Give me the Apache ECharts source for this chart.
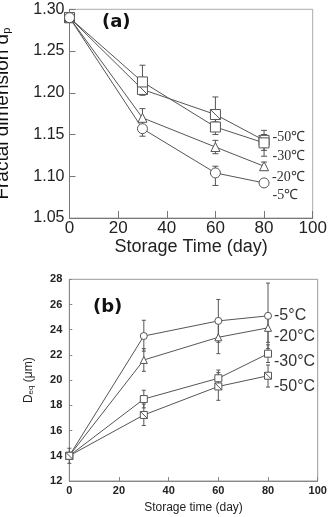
<!DOCTYPE html>
<html>
<head>
<meta charset="utf-8">
<script src="https://cdn.jsdelivr.net/npm/echarts@6/dist/echarts.min.js"></script>
<style>
  html, body { margin: 0; padding: 0; background: #fff; }
  #chart { width: 328px; height: 517px; }
</style>
</head>
<body>
<div id="chart"></div>
<script>
// 储存天数
const days = [0, 30, 60, 80]

// (a) 分形维数 d_p
const aNames = ['-50℃', '-30℃', '-20℃', '-5℃']
const aN50 = [1.29, 1.204, 1.174, 1.143]
const aN30 = [1.29, 1.213, 1.159, 1.140]
const aN20 = [1.29, 1.170, 1.135, 1.112]
const aN5 = [1.29, 1.157, 1.104, 1.092]
// 误差线 [下限, 上限]
const aN50Bar = [null, [1.197, 1.211], [1.165, 1.195], [1.131, 1.155]]
const aN30Bar = [null, [1.206, 1.233], [1.150, 1.168], [1.124, 1.150]]
const aN20Bar = [null, [1.160, 1.181], [1.127, 1.143], [1.107, 1.117]]
const aN5Bar = [null, [1.148, 1.166], [1.089, 1.112], null]
const aYTicks = [1.05, 1.10, 1.15, 1.20, 1.25, 1.30]

// (b) 当量直径 D_eq
const bNames = ['-5°C', '-20°C', '-30°C', '-50°C']
const bN5 = [14, 23.5, 24.7, 25.1]
const bN20 = [14, 21.6, 23.4, 24.15]
const bN30 = [14, 18.5, 20.15, 22.1]
const bN50 = [14, 17.24, 19.5, 20.35]
const bN5Bar = [[13.4, 14.6], [22.3, 24.75], [23.0, 26.4], [22.5, 27.7]]
const bN20Bar = [null, [20.7, 22.5], [22.1, 24.7], [23.0, 25.3]]
const bN30Bar = [null, [17.8, 19.2], [19.5, 20.8], [21.4, 22.8]]
const bN50Bar = [null, [16.4, 18.1], [18.4, 20.6], [19.45, 21.2]]

const ink = '#555'
const crossRect = 'path://M0,0H10V10H0ZM0,0L10,10'

function errorSeries(idx, bars, capW) {
  const data = []
  days.forEach((d, i) => {
    if (bars[i]) data.push([d, bars[i][0], bars[i][1]])
  })
  return {
    type: 'custom',
    xAxisIndex: idx,
    yAxisIndex: idx,
    z: 1,
    silent: true,
    encode: { x: 0, y: [1, 2] },
    data: data,
    renderItem: (params, api) => {
      const x = api.value(0)
      const lo = api.coord([x, api.value(1)])
      const hi = api.coord([x, api.value(2)])
      const st = { stroke: ink, lineWidth: 1 }
      return {
        type: 'group',
        children: [
          { type: 'line', shape: { x1: lo[0], y1: lo[1], x2: hi[0], y2: hi[1] }, style: st },
          { type: 'line', shape: { x1: lo[0] - capW, y1: lo[1], x2: lo[0] + capW, y2: lo[1] }, style: st },
          { type: 'line', shape: { x1: hi[0] - capW, y1: hi[1], x2: hi[0] + capW, y2: hi[1] }, style: st },
        ],
      }
    },
  }
}

function lineSeries(idx, values, symbol, size, name, labelStyle) {
  return {
    type: 'line',
    xAxisIndex: idx,
    yAxisIndex: idx,
    z: 2,
    symbol: symbol,
    symbolSize: size,
    showAllSymbol: true,
    silent: true,
    animation: false,
    itemStyle: { color: '#fff', borderColor: ink, borderWidth: 1 },
    lineStyle: { color: ink, width: 1 },
    data: days.map((d, i) => {
      const item = { value: [d, values[i]] }
      if (i === days.length - 1) {
        item.label = Object.assign({ show: true, position: 'right', formatter: name }, labelStyle)
      }
      return item
    }),
  }
}

const aLabel = (dy) => ({
  distance: 3,
  offset: [0, dy],
  fontFamily: 'Liberation Serif',
  fontSize: 14,
  color: '#333',
})
const bLabel = (dy) => ({
  distance: 2,
  offset: [0, dy],
  fontFamily: 'Liberation Sans',
  fontSize: 16,
  color: '#333',
})

const chart = echarts.init(document.getElementById('chart'))

const option = {
  animation: false,
  backgroundColor: '#fff',
  grid: [
    { left: 69.5, top: 9.3, width: 243.2, height: 208.7, outerBoundsMode: 'none', containLabel: false, show: true, borderColor: '#aaa', borderWidth: 1 },
    { left: 69.3, top: 279.3, width: 248.4, height: 201.7, outerBoundsMode: 'none', containLabel: false, show: true, borderColor: '#999', borderWidth: 1 },
  ],
  xAxis: [
    {
      gridIndex: 0, type: 'value', min: 0, max: 100, interval: 20,
      name: 'Storage Time (day)', nameLocation: 'middle', nameGap: 18,
      nameTextStyle: { fontFamily: 'Liberation Sans', fontSize: 18, color: '#222' },
      axisLine: { lineStyle: { color: '#777' } },
      axisTick: { inside: true, length: 7, lineStyle: { color: '#777' } },
      axisLabel: { margin: 2, fontFamily: 'Liberation Sans', fontSize: 17, color: '#222' },
      splitLine: { show: false },
    },
    {
      gridIndex: 1, type: 'value', min: 0, max: 100, interval: 20,
      name: 'Storage time (day)', nameLocation: 'middle', nameGap: 21,
      nameTextStyle: { fontFamily: 'Liberation Sans', fontSize: 12, color: '#222' },
      axisLine: { lineStyle: { color: '#888' } },
      axisTick: { inside: true, length: 4, lineStyle: { color: '#888' } },
      axisLabel: { margin: 4, fontFamily: 'Liberation Sans', fontSize: 11, fontWeight: 'bold', color: '#222' },
      splitLine: { show: false },
    },
  ],
  yAxis: [
    {
      gridIndex: 0, type: 'value', min: 1.05, max: 1.30, interval: 0.05,
      name: 'Fractal dimension d{sub|p}', nameLocation: 'middle', nameGap: 57,
      nameTextStyle: {
        fontFamily: 'Liberation Sans', fontSize: 19, color: '#111', lineHeight: 19,
        rich: { sub: { fontFamily: 'Liberation Sans', fontSize: 11, lineHeight: 11, verticalAlign: 'bottom', color: '#111' } },
      },
      axisLine: { lineStyle: { color: '#777' } },
      axisTick: { inside: true, length: 6, lineStyle: { color: '#777' } },
      axisLabel: {
        margin: 5, fontFamily: 'Liberation Sans', fontSize: 16, color: '#222',
        formatter: (v) => {
          const t = aYTicks.find((k) => Math.abs(k - v) < 1e-6)
          return t === undefined ? '' : t.toFixed(2)
        },
      },
      splitLine: { show: false },
    },
    {
      gridIndex: 1, type: 'value', min: 12, max: 28, interval: 2,
      name: 'D{sub|eq} (μm)', nameLocation: 'middle', nameGap: 35,
      nameTextStyle: {
        fontFamily: 'Liberation Sans', fontSize: 12, color: '#222', lineHeight: 12,
        rich: { sub: { fontFamily: 'Liberation Sans', fontSize: 8, lineHeight: 8, verticalAlign: 'bottom', color: '#222' } },
      },
      axisLine: { lineStyle: { color: '#888' } },
      axisTick: { inside: true, length: 3, lineStyle: { color: '#888' } },
      axisLabel: { margin: 7, fontFamily: 'Liberation Sans', fontSize: 11, fontWeight: 'bold', color: '#222' },
      splitLine: { show: false },
    },
  ],
  graphic: [
    { type: 'text', left: 102, top: 13, style: { text: '(a)', fontFamily: 'DejaVu Sans', fontWeight: 'bold', fontSize: 18, fill: '#111' } },
    { type: 'text', left: 93, top: 298, style: { text: '(b)', fontFamily: 'DejaVu Sans', fontWeight: 'bold', fontSize: 18, fill: '#111' } },
  ],
  series: [
    errorSeries(0, aN50Bar, 3),
    errorSeries(0, aN30Bar, 3),
    errorSeries(0, aN20Bar, 3),
    errorSeries(0, aN5Bar, 3),
    lineSeries(0, aN50, crossRect, 10, aNames[0], aLabel(-3)),
    lineSeries(0, aN30, 'rect', 10, aNames[1], aLabel(13)),
    lineSeries(0, aN20, 'triangle', 9, aNames[2], aLabel(11)),
    lineSeries(0, aN5, 'circle', 10, aNames[3], aLabel(12)),

    errorSeries(1, bN5Bar, 2),
    errorSeries(1, bN20Bar, 2),
    errorSeries(1, bN30Bar, 2),
    errorSeries(1, bN50Bar, 2),
    lineSeries(1, bN5, 'circle', 7, bNames[0], bLabel(0)),
    lineSeries(1, bN20, 'triangle', 7, bNames[1], bLabel(9)),
    lineSeries(1, bN30, 'rect', 7, bNames[2], bLabel(8)),
    lineSeries(1, bN50, crossRect, 7, bNames[3], bLabel(11)),
  ],
}

chart.setOption(option)
</script>
</body>
</html>
